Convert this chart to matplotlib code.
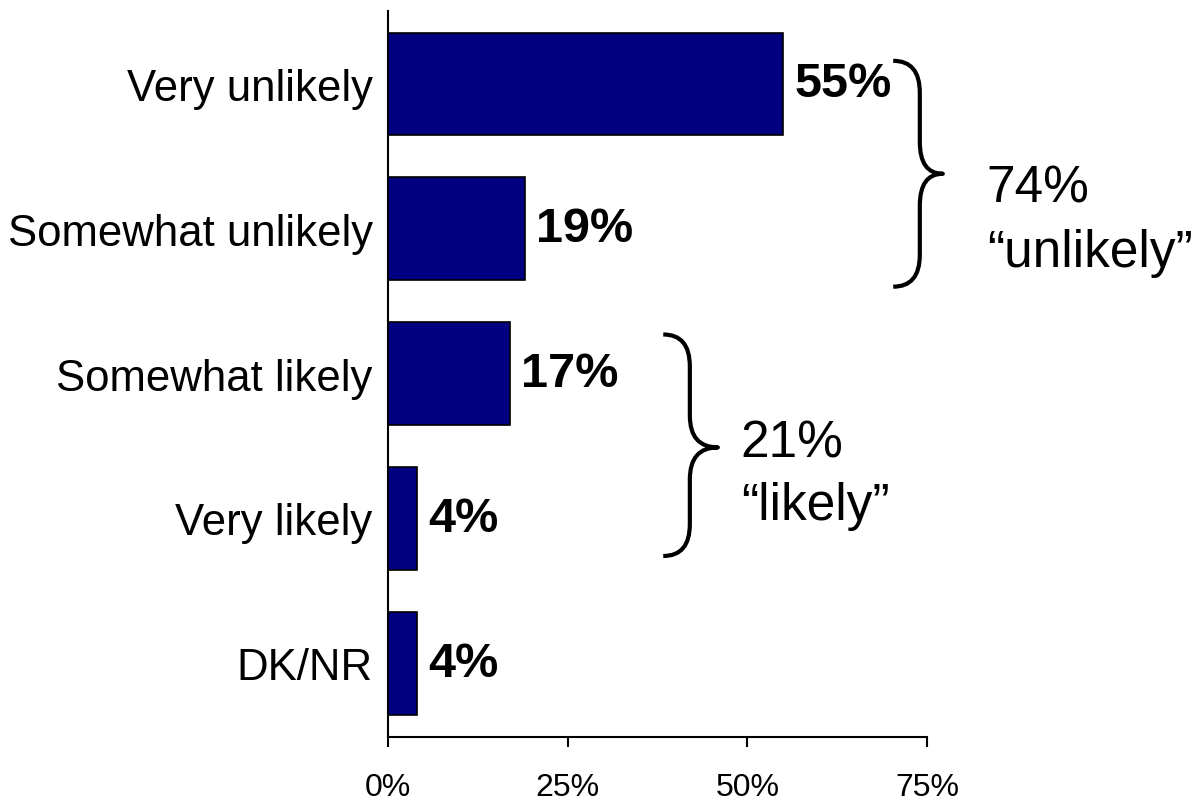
import matplotlib
matplotlib.use("Agg")
import matplotlib.pyplot as plt
from matplotlib.path import Path
from matplotlib.patches import PathPatch

plt.rcParams['font.family'] = ['Liberation Sans', 'DejaVu Sans']

categories = ["Very unlikely", "Somewhat unlikely", "Somewhat likely", "Very likely", "DK/NR"]
values = [55, 19, 17, 4, 4]
value_labels = ["55%", "19%", "17%", "4%", "4%"]
xticks = [0, 25, 50, 75]
xtick_labels = ["0%", "25%", "50%", "75%"]
group_pct = ["74%", "21%"]
group_words = ["\u201cunlikely\u201d", "\u201clikely\u201d"]

fig = plt.figure(figsize=(12, 8.03), dpi=100)
ax = fig.add_axes([388/1200, 1-738/803, (927-388)/1200, (738-12)/803])

ypos = list(range(len(categories)))
ax.barh(ypos, values, height=0.71, color="#000080", edgecolor="black", linewidth=1.2)
ax.set_ylim(4.51, -0.504)
ax.set_xlim(0, 75)
ax.set_yticks(ypos)
ax.set_yticklabels(categories, fontsize=31.5)
ax.tick_params(axis='y', length=0, pad=11)
ax.set_xticks(xticks)
ax.set_xticklabels(xtick_labels, fontsize=23)
ax.tick_params(axis='x', length=7.5, width=1.5, direction='out', pad=18)
for s in ['top', 'right']:
    ax.spines[s].set_visible(False)
for s in ['left', 'bottom']:
    ax.spines[s].set_linewidth(1.5)

for y, v, lab in zip(ypos, values, value_labels):
    ax.annotate(lab, (v, y), xytext=(8, 0), textcoords='offset points',
                ha='left', va='center', fontsize=35, fontweight='bold')

def brace(x0, x1, x2, yt, ym, yb, r):
    verts = [(x0, yt), (x1, yt), (x1, yt + r),
             (x1, ym - r), (x1, ym), (x2, ym),
             (x1, ym), (x1, ym + r),
             (x1, yb - r), (x1, yb), (x0, yb)]
    codes = [Path.MOVETO, Path.CURVE3, Path.CURVE3,
             Path.LINETO, Path.CURVE3, Path.CURVE3,
             Path.CURVE3, Path.CURVE3,
             Path.LINETO, Path.CURVE3, Path.CURVE3]
    p = PathPatch(Path(verts, codes), fill=False, lw=3, edgecolor='black',
                  clip_on=False, capstyle='butt', joinstyle='round')
    ax.add_patch(p)

brace(70.3, 74.0, 77.2, -0.16, 0.62, 1.40, 0.22)
brace(38.3, 42.0, 45.9, 1.73, 2.51, 3.26, 0.22)

text_x = [83.3, 49.1]
base_y1 = [0.815, 2.570]
base_y2 = [1.257, 3.005]
for tx, b1, b2, p, w in zip(text_x, base_y1, base_y2, group_pct, group_words):
    ax.text(tx, b1, p, fontsize=37, ha='left', va='baseline', clip_on=False)
    ax.text(tx, b2, w, fontsize=37, ha='left', va='baseline', clip_on=False)

fig.savefig("out.png", dpi=100)
